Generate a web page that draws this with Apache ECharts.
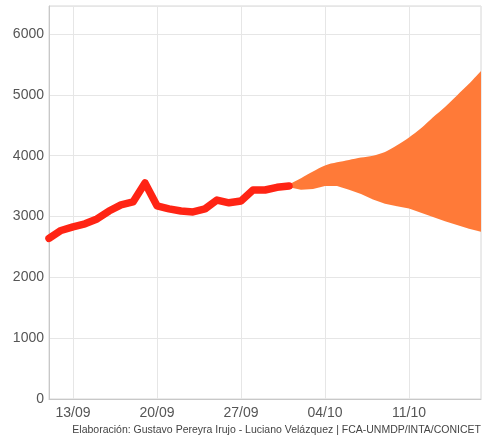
<!DOCTYPE html>
<html>
<head>
<meta charset="utf-8">
<script src="https://cdn.jsdelivr.net/npm/echarts@6/dist/echarts.min.js"></script>
<style>
  html, body { margin: 0; padding: 0; background: #fff; }
  #chart { width: 482px; height: 439px; }
</style>
</head>
<body>
<div id="chart"></div>
<script>
// Datos
const days = [
    '11/09', '12/09', '13/09', '14/09', '15/09', '16/09', '17/09', '18/09', '19/09', '20/09',
    '21/09', '22/09', '23/09', '24/09', '25/09', '26/09', '27/09', '28/09', '29/09', '30/09',
    '01/10', '02/10', '03/10', '04/10', '05/10', '06/10', '07/10', '08/10', '09/10', '10/10',
    '11/10', '12/10', '13/10', '14/10', '15/10', '16/10', '17/10'
];

// casos observados (11/09 - 01/10)
const observed = [
    2640, 2770, 2830, 2880, 2960, 3090, 3190, 3240, 3550, 3175,
    3125, 3090, 3075, 3125, 3270, 3225, 3255, 3435, 3435, 3480, 3500
];

// proyeccion (01/10 - 17/10)
const bandLower = [3480, 3440, 3450, 3500, 3500, 3440, 3370, 3280, 3210, 3170, 3130, 3060, 2990, 2920, 2860, 2800, 2750];
const bandUpper = [3530, 3630, 3740, 3840, 3890, 3930, 3970, 4000, 4060, 4170, 4300, 4450, 4630, 4800, 4990, 5180, 5390];

const yTicks = [0, 1000, 2000, 3000, 4000, 5000, 6000];

const caption = 'Elaboración: Gustavo Pereyra Irujo - Luciano Velázquez | FCA-UNMDP/INTA/CONICET';

// Series
const pad = n => new Array(n).fill('-');
const offset = days.length - bandLower.length;
const lowerSeries = pad(offset).concat(bandLower);
const diffSeries = pad(offset).concat(bandUpper.map((u, i) => u - bandLower[i]));
const obsSeries = observed.concat(pad(days.length - observed.length));

const labelIdx = i => (i - 2) % 7 === 0;

const chart = echarts.init(document.getElementById('chart'));

chart.setOption({
    animation: false,
    grid: {
        left: 49, right: 1, top: 6, bottom: 40,
        show: true, borderColor: '#d6d6d6', borderWidth: 1
    },
    xAxis: {
        type: 'category',
        data: days,
        boundaryGap: false,
        axisLine: { lineStyle: { color: '#c8c8c8' } },
        axisTick: { show: false },
        axisLabel: {
            interval: labelIdx,
            color: '#555',
            fontSize: 14,
            fontFamily: 'Liberation Sans',
            margin: 7
        },
        splitLine: {
            show: true,
            interval: labelIdx,
            lineStyle: { color: '#e6e6e6' }
        }
    },
    yAxis: {
        type: 'value',
        min: 0,
        max: 6460,
        interval: 1000,
        axisLine: { show: true, lineStyle: { color: '#c8c8c8' } },
        axisTick: { show: false },
        axisLabel: {
            showMaxLabel: false,
            color: '#555',
            fontSize: 14,
            fontFamily: 'Liberation Sans',
            margin: 5,
            formatter: v => yTicks.includes(v) ? String(v) : ''
        },
        splitLine: { lineStyle: { color: '#e6e6e6' } }
    },
    graphic: [{
        type: 'text',
        right: 1,
        top: 425,
        style: {
            text: caption,
            fill: '#444',
            font: '10.5px "Liberation Sans"'
        }
    }],
    series: [
        {
            name: 'lower',
            type: 'line',
            stack: 'band',
            data: lowerSeries,
            symbol: 'none',
            lineStyle: { opacity: 0 },
            silent: true
        },
        {
            name: 'band',
            type: 'line',
            stack: 'band',
            data: diffSeries,
            symbol: 'none',
            smooth: 0.3,
            lineStyle: { opacity: 0 },
            areaStyle: { color: '#ff7a38', opacity: 1 }
        },
        {
            name: 'observed',
            type: 'line',
            data: obsSeries,
            symbol: 'none',
            lineStyle: { color: '#ff2414', width: 7.5, cap: 'round', join: 'round' },
            z: 3
        }
    ]
});
</script>
</body>
</html>
